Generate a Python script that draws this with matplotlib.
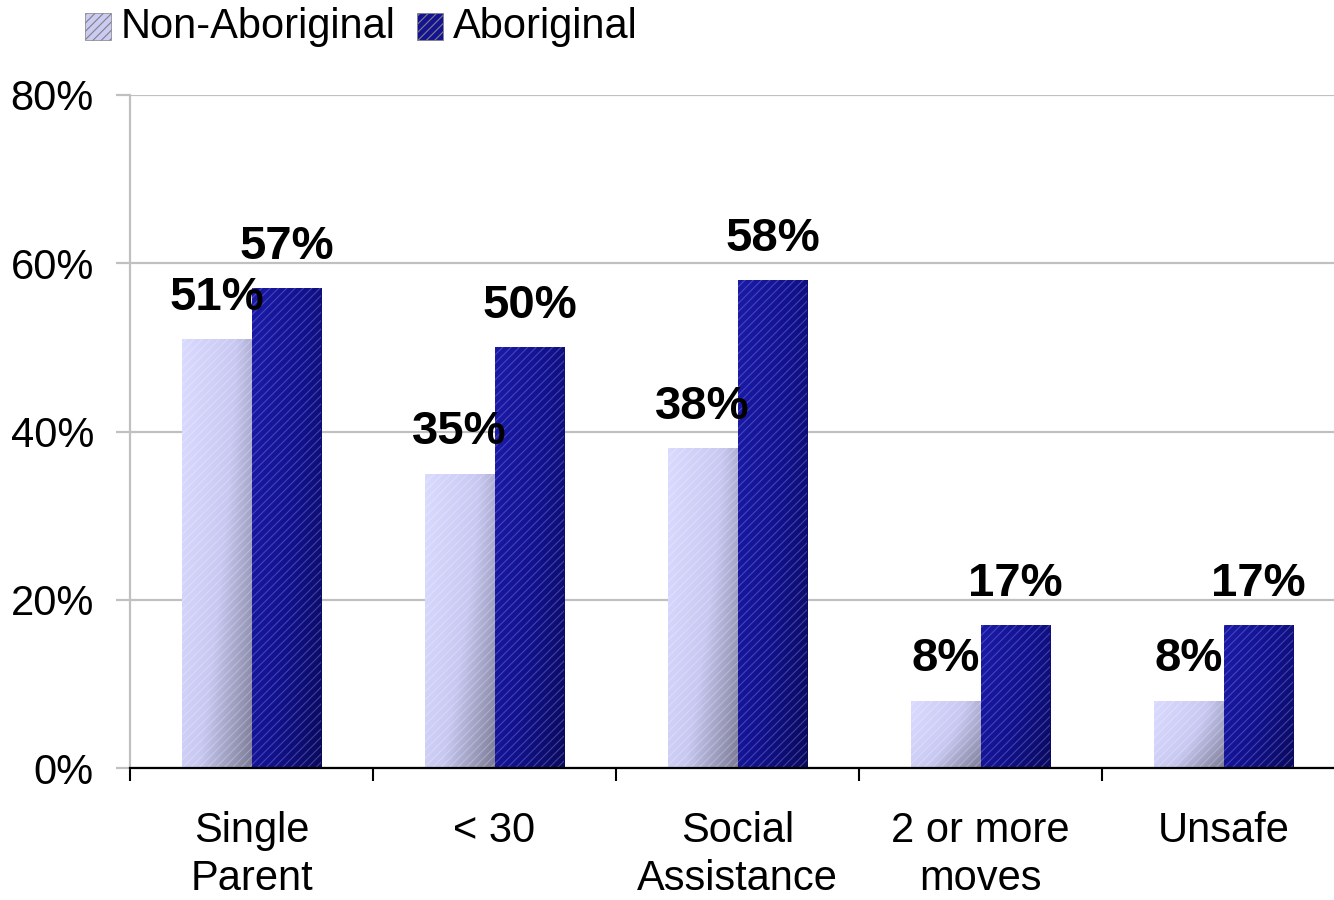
import numpy as np
import matplotlib
matplotlib.use('Agg')
import matplotlib.pyplot as plt
from matplotlib.patches import Rectangle
from matplotlib.colors import LinearSegmentedColormap

# datos
categorias = ['Single\nParent', '< 30', 'Social\nAssistance', '2 or more\nmoves', 'Unsafe']
non_abor = [51, 35, 38, 8, 8]
abor = [57, 50, 58, 17, 17]
series = ['Non-Aboriginal', 'Aboriginal']

plt.rcParams['font.family'] = ['Liberation Sans', 'DejaVu Sans']

cmap_light = LinearSegmentedColormap.from_list('light', ['#dadaff', '#c8c8f2', '#7c7c98'])
cmap_dark = LinearSegmentedColormap.from_list('dark', ['#1a1aa6', '#12128e', '#0a0a5a'])

fig = plt.figure(figsize=(13.34, 9), dpi=100)
ax = fig.add_axes([130 / 1334, 132 / 900, 1215 / 1334, 673 / 900])

x = np.arange(len(categorias))
w = 0.288


def barra_degradado(ax, x0, h, cmap, hatch_color, hatch):
    rect = Rectangle((x0, 0), w, h, facecolor='none', edgecolor='none', zorder=3)
    ax.add_patch(rect)
    u, v = np.meshgrid(np.linspace(0, 1, 60), np.linspace(0, 1, 200))
    # v = 0 arriba
    t = 0.65 * u + 0.35 * v ** 1.5
    im = ax.imshow(t, extent=(x0, x0 + w, 0, h), origin='upper', aspect='auto',
                   cmap=cmap, vmin=0, vmax=1, zorder=3)
    im.set_clip_path(rect)
    ax.add_patch(Rectangle((x0, 0), w, h, facecolor='none', edgecolor=hatch_color,
                           hatch=hatch, linewidth=0, zorder=4))


plt.rcParams['hatch.linewidth'] = 0.8
for i in range(len(categorias)):
    barra_degradado(ax, x[i] - w, non_abor[i], cmap_light, (1, 1, 1, 0.25), '////')
    barra_degradado(ax, x[i], abor[i], cmap_dark, (0.45, 0.45, 0.85, 0.5), '////')

# etiquetas de valores
for i in range(len(categorias)):
    ax.annotate(f'{non_abor[i]}%', (x[i] - w / 2, non_abor[i]), xytext=(0, 14),
                textcoords='offset points', ha='center', va='bottom',
                fontsize=34, fontweight='bold', zorder=6)
    ax.annotate(f'{abor[i]}%', (x[i] + w / 2, abor[i]), xytext=(0, 14),
                textcoords='offset points', ha='center', va='bottom',
                fontsize=34, fontweight='bold', zorder=6)

ax.set_xlim(-0.5, 4.5)
ax.set_ylim(0, 80)
ax.set_yticks([0, 20, 40, 60, 80])
ax.set_yticklabels(['0%', '20%', '40%', '60%', '80%'])
ax.yaxis.grid(True, color='#c0c0c0', linewidth=1.6)
ax.set_axisbelow(True)

ax.set_xticks(x)
ax.set_xticklabels(categorias, fontsize=30, linespacing=1.25)
ax.set_xticks(np.arange(-0.5, 4.5, 1), minor=True)
ax.tick_params(axis='x', which='major', length=0, pad=31)
ax.tick_params(axis='x', which='minor', length=9, width=1.5, color='black', direction='out')
ax.tick_params(axis='y', length=10, width=1.6, color='#c0c0c0', labelsize=30, pad=16)

for s in ['top', 'right']:
    ax.spines[s].set_visible(False)
ax.spines['left'].set_color('#c0c0c0')
ax.spines['left'].set_linewidth(1.6)
ax.spines['bottom'].set_color('black')
ax.spines['bottom'].set_linewidth(1.6)
ax.spines['bottom'].set_zorder(5)

# leyenda
colores_ley = [cmap_light(0.45), cmap_dark(0.4)]
leg_x = [85, 417]
for j, nombre in enumerate(series):
    x0 = leg_x[j] / 1334
    fig.patches.append(Rectangle((x0, 1 - 40 / 900), 26 / 1334, 27 / 900,
                                 transform=fig.transFigure, facecolor=colores_ley[j],
                                 edgecolor='#808080', linewidth=0.5,
                                 hatch='////'))
    fig.text(x0 + 36 / 1334, 1 - 27 / 900, nombre, fontsize=30, va='center', ha='left')

fig.savefig('out.png', dpi=100)
